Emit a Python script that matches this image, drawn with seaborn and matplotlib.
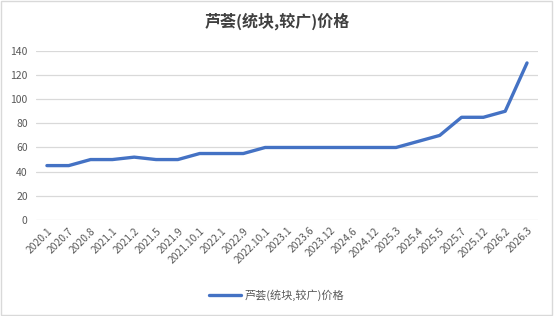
import pandas as pd
import seaborn as sns
import matplotlib.pyplot as plt
from matplotlib.patches import Rectangle

# 芦荟(统块,较广)价格
dates = ['2020.1', '2020.7', '2020.8', '2021.1', '2021.2', '2021.5', '2021.9',
         '2021.10.1', '2022.1', '2022.9', '2022.10.1', '2023.1', '2023.6',
         '2023.12', '2024.6', '2024.12', '2025.3', '2025.4', '2025.5',
         '2025.7', '2025.12', '2026.2', '2026.3']
prices = [45, 45, 50, 50, 52, 50, 50, 55, 55, 55, 60, 60, 60, 60, 60, 60, 60,
          65, 70, 85, 85, 90, 130]
series_name = '芦荟(统块,较广)价格'
yticks = [0, 20, 40, 60, 80, 100, 120, 140]

df = pd.DataFrame({'pos': range(len(dates)), 'date': dates, 'price': prices})

sns.set_style('white')
plt.rcParams['font.family'] = ['Noto Sans CJK SC', 'DejaVu Sans']

fig = plt.figure(figsize=(5.54, 3.16), dpi=100)
ax = fig.add_axes([0.065, 0.304, 0.906, 0.535])

sns.lineplot(data=df, x='pos', y='price', color='#4472C4', linewidth=2.4,
             label=series_name, ax=ax, legend=False)

ax.set_xlim(-0.5, len(dates) - 0.5)
ax.set_ylim(0, 140)
ax.set_yticks(yticks)
ax.set_xticks(df['pos'])
ax.set_xticklabels(dates, rotation=45, ha='right', rotation_mode='anchor')
ax.tick_params(axis='x', labelsize=7.4, colors='#595959', length=0, pad=4)
ax.tick_params(axis='y', labelsize=7.5, colors='#595959', length=0, pad=6)
ax.grid(axis='y', color='#D9D9D9', linewidth=0.9)
ax.set_axisbelow(True)
for s in ax.spines.values():
    s.set_visible(False)
ax.set_xlabel('')
ax.set_ylabel('')

fig.suptitle(series_name, x=0.5, y=0.96, fontsize=11.5, color='#404040',
             fontweight='bold')

handles, labels = ax.get_legend_handles_labels()
fig.legend(handles, labels, loc='lower center', bbox_to_anchor=(0.5, 0.015),
           frameon=False, fontsize=8, labelcolor='#595959',
           handlelength=2.8, handletextpad=0.4)

fig.patches.append(Rectangle((0.002, 0.003), 0.995, 0.993, transform=fig.transFigure,
                             fill=False, edgecolor='#D9D9D9', linewidth=1))

fig.savefig('out.png', dpi=100)
